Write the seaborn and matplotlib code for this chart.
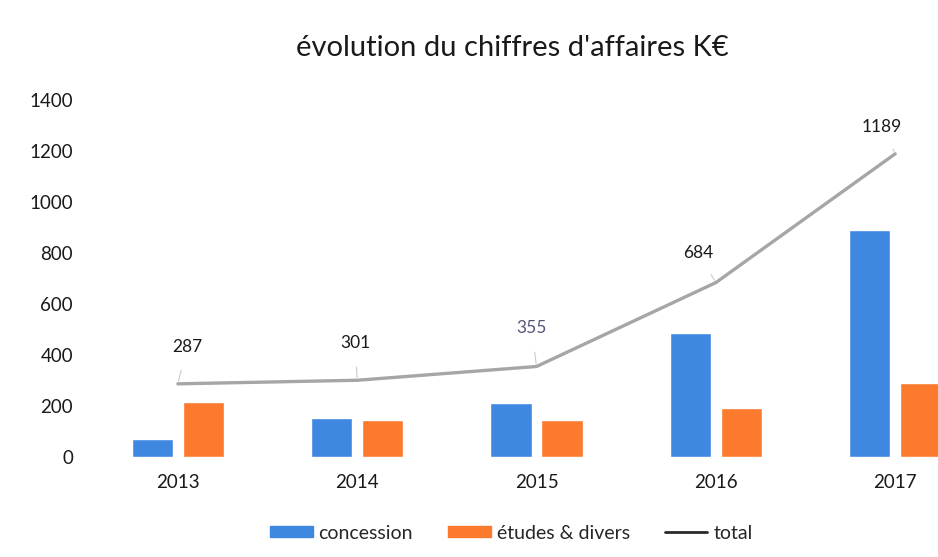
import seaborn as sns
import matplotlib.pyplot as plt
import pandas as pd
import numpy as np
from matplotlib.patches import Patch
from matplotlib.lines import Line2D

# données (K€)
annees = ["2013", "2014", "2015", "2016", "2017"]
concession = [70, 153, 212, 486, 890]
etudes = [217, 145, 145, 192, 290]
total = [287, 301, 355, 684, 1189]

bleu = "#3f88e2"
orange = "#fb7a2e"
gris = "#a6a6a6"

sns.set_theme(style="white")
plt.rcParams['font.family'] = ['Lato', 'DejaVu Sans']

df = pd.DataFrame({
    "annee": annees * 2,
    "valeur": concession + etudes,
    "serie": ["concession"] * len(annees) + ["études & divers"] * len(annees),
})

fig = plt.figure(figsize=(9.38, 5.57), dpi=100)
ax = fig.add_axes([0.094, 0.1795, 0.956, 0.641])

sns.barplot(data=df, x="annee", y="valeur", hue="serie",
            palette=[bleu, orange], width=0.57, gap=0.19,
            saturation=1, legend=False, ax=ax)
sns.lineplot(x=np.arange(len(annees)), y=total, color=gris, linewidth=2.4, ax=ax)

# étiquettes du total
decalages = [(9, 37), (-2, 37), (-5, 38), (-18, 30), (-13, 27)]
for i, v in enumerate(total):
    ax.annotate(str(v), xy=(i, v), xytext=decalages[i], textcoords="offset pixels",
                ha="center", va="center", fontsize=12.5,
                color="#55557a" if v == 355 else "#1a1a1a",
                arrowprops=dict(arrowstyle="-", color="#cfcfcf", lw=0.9,
                                shrinkA=9, shrinkB=2))

ax.set_xlim(-0.5, len(annees) - 0.5)
ax.set_ylim(0, 1400)
ax.set_yticks(range(0, 1401, 200))
ax.set_xlabel("")
ax.set_ylabel("")
ax.tick_params(axis="both", labelsize=13.5, colors="#1a1a1a", length=0)
ax.tick_params(axis="y", pad=11)
ax.tick_params(axis="x", pad=12)
for s in ax.spines.values():
    s.set_visible(False)

fig.text(0.546, 0.914, "évolution du chiffres d'affaires K€", ha="center",
         va="center", fontsize=21, color="#1a1a1a")

poignees = [Patch(color=bleu, label="concession"),
            Patch(color=orange, label="études & divers"),
            Line2D([], [], color="#2a2a2a", lw=2, label="total")]
fig.legend(handles=poignees, loc="center", bbox_to_anchor=(0.545, 0.043), ncol=3,
           frameon=False, fontsize=14, handlelength=2.2, handleheight=0.45,
           handletextpad=0.3, columnspacing=1.8)

fig.savefig("out.png", dpi=100)
